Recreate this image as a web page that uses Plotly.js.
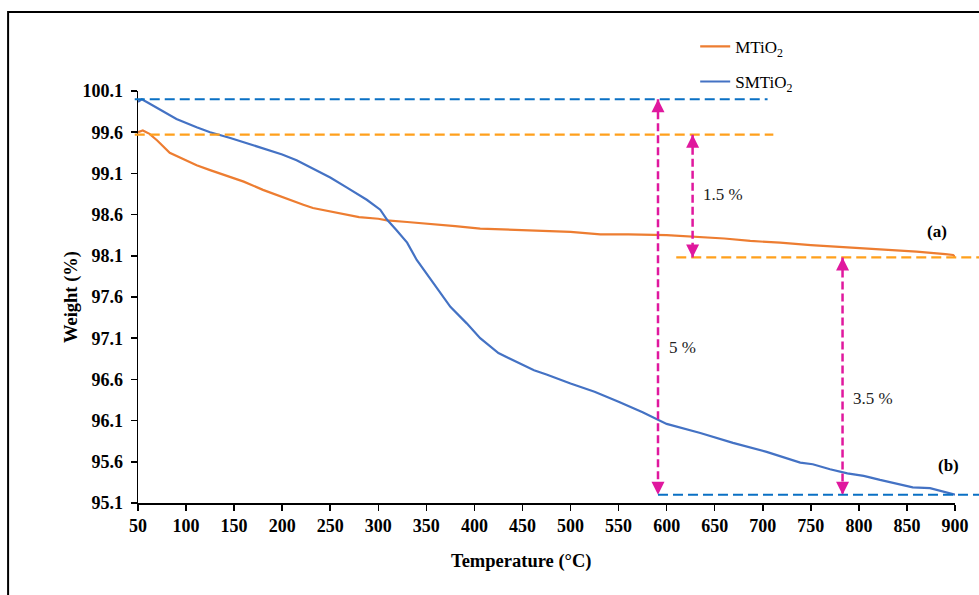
<!DOCTYPE html>
<html>
<head>
<meta charset="utf-8">
<script src="https://cdn.plot.ly/plotly-3.0.1.min.js"></script>
<style>html,body{margin:0;padding:0;background:#fff;}#chart{width:979px;height:595px;}</style>
</head>
<body>
<div id="chart"></div>
<script>
// ---- data ----
const mTemp = [50,55,62,70,83,100,111,125,146,160,180,200,222,232,250,267,280,300,309,330,354,380,406,430,450,480,500,531,560,600,627,660,687,718,750,780,800,830,860,890,898,900];
const mWeight = [99.60,99.62,99.58,99.50,99.35,99.26,99.20,99.14,99.06,99.00,98.90,98.81,98.72,98.68,98.64,98.60,98.57,98.55,98.53,98.51,98.49,98.46,98.43,98.42,98.41,98.40,98.39,98.36,98.36,98.35,98.33,98.31,98.28,98.26,98.23,98.21,98.19,98.17,98.15,98.12,98.11,98.09];

const smTemp = [50,54,60,76,90,111,125,146,160,180,200,215,230,250,267,288,302,309,319,330,340,357,375,392,406,425,450,462,475,500,525,550,575,600,635,669,704,739,752,770,788,805,822,840,856,874,886,898,900];
const smWeight = [99.97,100.00,99.96,99.85,99.76,99.66,99.60,99.53,99.48,99.41,99.33,99.26,99.17,99.05,98.93,98.78,98.66,98.54,98.41,98.26,98.05,97.77,97.48,97.28,97.10,96.92,96.78,96.71,96.66,96.55,96.45,96.33,96.20,96.06,95.95,95.83,95.72,95.59,95.57,95.51,95.46,95.43,95.38,95.33,95.29,95.28,95.24,95.20,95.20];

const seriesNames = ['MTiO<sub>2</sub>', 'SMTiO<sub>2</sub>'];
const xTitle = 'Temperature (°C)';
const yTitle = 'Weight (%)';
const xRange = [50, 900];
const yRange = [95.1, 100.1];

// reference levels and loss arrows
const levelTopM = 99.57, levelTopSM = 100.0, levelEndM = 98.08, levelEndSM = 95.20;
const topLineEnd = {m: 711, sm: 705};
const lowLineStart = {m: 610, sm: 591};
const arrows = [
  {x: 591, y0: levelTopSM, y1: levelEndSM},
  {x: 627, y0: levelTopM, y1: levelEndM},
  {x: 783, y0: levelEndM, y1: levelEndSM}
];
const labels = [
  {x: 659, y: 98.84, text: '1.5 %', bold: false},
  {x: 617, y: 96.99, text: '5 %', bold: false},
  {x: 815, y: 96.37, text: '3.5 %', bold: false},
  {x: 881, y: 98.40, text: '(a)', bold: true},
  {x: 893, y: 95.55, text: '(b)', bold: true}
];

// ---- styles ----
const FONT = '"Liberation Serif", "Times New Roman", serif';
const ORANGE = '#ED7D31', BLUE = '#4472C4';
const DORANGE = '#FFA01C', DBLUE = '#0A70C4', MAGENTA = '#E0189E';
const xp = v => (v - xRange[0]) / (xRange[1] - xRange[0]);

const traces = [
  {x: mTemp, y: mWeight, name: seriesNames[0], type: 'scatter', mode: 'lines',
   line: {color: ORANGE, width: 2.2}, legend: 'legend'},
  {x: smTemp, y: smWeight, name: seriesNames[1], type: 'scatter', mode: 'lines',
   line: {color: BLUE, width: 2.2}, legend: 'legend2'}
];
// arrowheads at both ends of each loss arrow
traces.push({
  type: 'scatter', mode: 'markers', showlegend: false, hoverinfo: 'skip', cliponaxis: false,
  x: arrows.flatMap(a => [a.x, a.x]),
  y: arrows.flatMap(a => [a.y0, a.y1]),
  marker: {symbol: arrows.flatMap(() => ['arrow-up', 'arrow-down']), size: 13, color: MAGENTA,
           line: {width: 0}}
});

const shapes = [
  // outer frame
  {type: 'rect', xref: 'paper', yref: 'paper', x0: -0.159, x1: 1.2, y0: -0.4, y1: 1.192,
   line: {color: '#000', width: 2}, layer: 'below'},
  // top reference levels
  {type: 'line', xref: 'paper', yref: 'y', x0: -0.004, x1: xp(topLineEnd.sm), y0: levelTopSM, y1: levelTopSM,
   line: {color: DBLUE, width: 2.2, dash: '10px,5px'}},
  {type: 'line', xref: 'paper', yref: 'y', x0: -0.004, x1: xp(topLineEnd.m), y0: levelTopM, y1: levelTopM,
   line: {color: DORANGE, width: 2.2, dash: '10px,5px'}},
  // final levels
  {type: 'line', xref: 'paper', yref: 'y', x0: xp(lowLineStart.m), x1: 1.04, y0: levelEndM, y1: levelEndM,
   line: {color: DORANGE, width: 2.2, dash: '10px,5px'}},
  {type: 'line', xref: 'paper', yref: 'y', x0: xp(lowLineStart.sm), x1: 1.04, y0: levelEndSM, y1: levelEndSM,
   line: {color: DBLUE, width: 2.2, dash: '10px,5px'}}
];
arrows.forEach(a => {
  shapes.push({type: 'line', xref: 'x', yref: 'y', x0: a.x, x1: a.x, y0: a.y0, y1: a.y1,
    line: {color: MAGENTA, width: 2.5, dash: '8px,4px'}});
});

const titleFont = {family: FONT, size: 18.5, color: '#000', weight: 'bold'};
const annotations = [];
labels.forEach(l => {
  annotations.push({x: l.x, y: l.y, xref: 'x', yref: 'y', text: l.text, showarrow: false,
    font: {family: FONT, size: 17, color: l.bold ? '#000' : '#222', weight: l.bold ? 'bold' : 'normal'}});
});
// x-axis title (sits left of centre in the reference)
annotations.push({x: 0.469, y: -0.143, xref: 'paper', yref: 'paper', text: xTitle, showarrow: false,
  xanchor: 'center', yanchor: 'middle', font: titleFont});

const axisFont = {family: FONT, size: 18, color: '#000', weight: 'bold'};
const layout = {
  width: 979, height: 595,
  margin: {l: 138, r: 24, t: 91, b: 92, pad: 0},
  paper_bgcolor: '#fff', plot_bgcolor: '#fff',
  showlegend: true,
  legend: {x: 0.682, y: 1.107, xanchor: 'left', yanchor: 'middle', bgcolor: 'rgba(0,0,0,0)',
           font: {family: FONT, size: 17, color: '#000'}},
  legend2: {x: 0.682, y: 1.022, xanchor: 'left', yanchor: 'middle', bgcolor: 'rgba(0,0,0,0)',
           font: {family: FONT, size: 17, color: '#000'}},
  xaxis: {range: xRange, tick0: 50, dtick: 50, ticks: 'outside', ticklen: 6, tickwidth: 1.5, tickcolor: '#000',
          showline: true, linecolor: '#000', linewidth: 1.5, showgrid: false, zeroline: false,
          tickfont: axisFont},
  yaxis: {range: yRange, tick0: 95.1, dtick: 0.5, tickformat: '.1f', ticks: 'outside', ticklen: 6, tickwidth: 1.5, tickcolor: '#000',
          showline: true, linecolor: '#000', linewidth: 1.5, showgrid: false, zeroline: false,
          ticklabelstandoff: 4,
          tickfont: axisFont,
          title: {text: yTitle, font: titleFont, standoff: 0}},
  shapes: shapes,
  annotations: annotations
};

Plotly.newPlot('chart', traces, layout, {displayModeBar: false, staticPlot: true});
</script>
</body>
</html>
